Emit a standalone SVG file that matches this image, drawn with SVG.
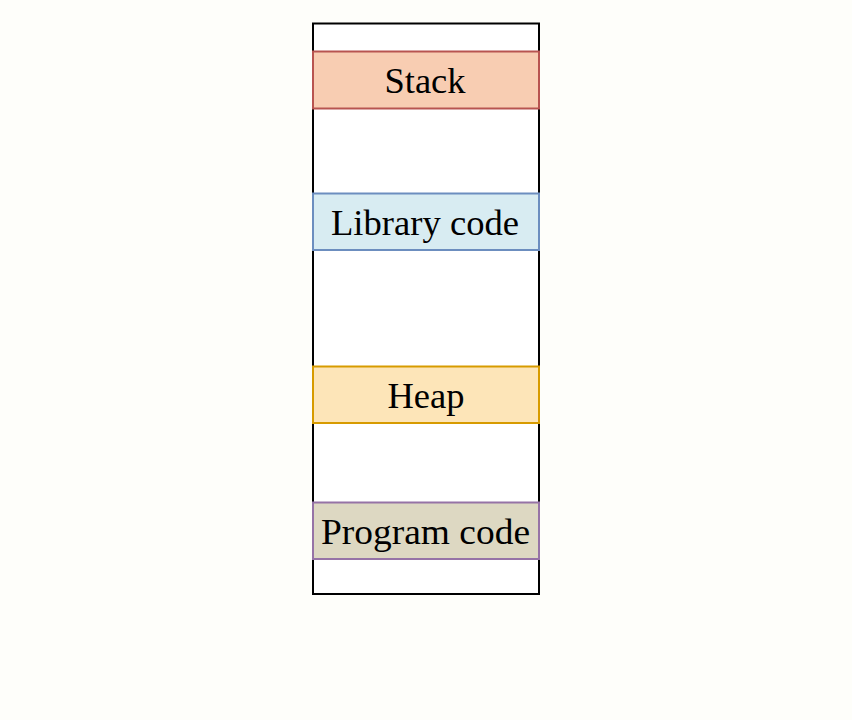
<svg xmlns="http://www.w3.org/2000/svg" width="852" height="720" viewBox="0 0 852 720">
<style>
.seg{stroke-width:2}
.lbl{font-family:"Liberation Serif","Times New Roman",serif;font-size:36px;fill:#000;text-anchor:middle}
</style>
<rect x="0" y="0" width="852" height="720" fill="#fefefa"/>
<g id="memory">
<rect x="313" y="23.5" width="226" height="570.5" fill="#ffffff" stroke="#000" stroke-width="2"/>
</g>
<g id="stack">
<rect class="seg" x="313" y="51.5" width="226" height="57" fill="#f8cdb2" stroke="#b85450"/>
<text class="lbl" x="425" y="93" textLength="81" lengthAdjust="spacingAndGlyphs">Stack</text>
</g>
<g id="library">
<rect class="seg" x="313" y="193.5" width="226" height="56.5" fill="#d8ecf2" stroke="#6c8ebf"/>
<text class="lbl" x="425" y="235" textLength="188" lengthAdjust="spacingAndGlyphs">Library code</text>
</g>
<g id="heap">
<rect class="seg" x="313" y="366.5" width="226" height="56.5" fill="#fde5b8" stroke="#d79b00"/>
<text class="lbl" x="426" y="408" textLength="77" lengthAdjust="spacingAndGlyphs">Heap</text>
</g>
<g id="program">
<rect class="seg" x="313" y="502.5" width="226" height="56.5" fill="#ddd8c2" stroke="#9673a6"/>
<text class="lbl" x="425.5" y="544" textLength="209" lengthAdjust="spacingAndGlyphs">Program code</text>
</g>
<g id="connectors"/>
</svg>
